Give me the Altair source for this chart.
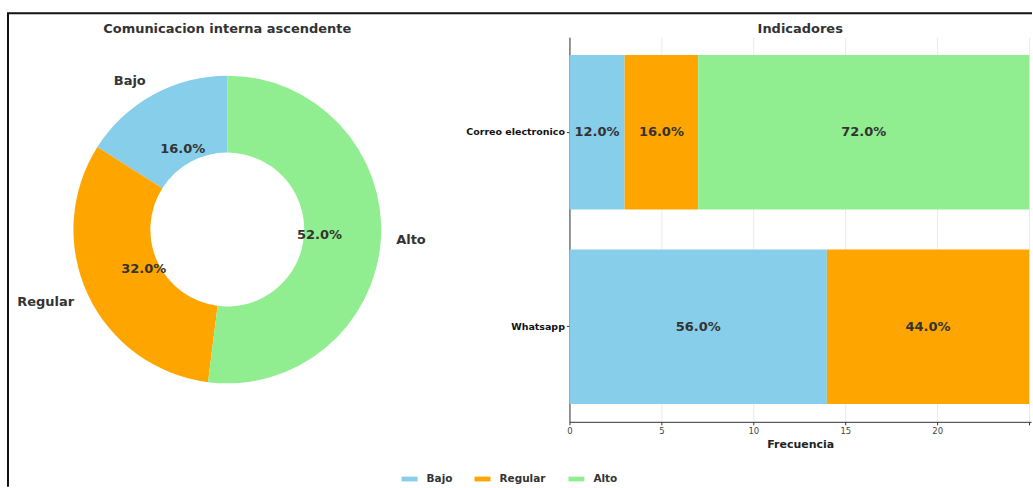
import altair as alt
import pandas as pd

# ---------------- data ----------------
niveles = ["Bajo", "Regular", "Alto"]
colores = ["#87CEEB", "#FFA500", "#90EE90"]
donut_conteos = [4, 8, 13]

medios = ["Correo electronico", "Whatsapp"]
correo_conteos = [3, 4, 18]
whatsapp_conteos = [14, 11, 0]
x_ticks = [0, 5, 10, 15, 20, 25]

FONT = "DejaVu Sans"
TXT = "#333333"

donut_df = pd.DataFrame({"nivel": niveles, "n": donut_conteos, "orden": list(range(len(niveles)))})
bar_df = pd.DataFrame({
    "medio": [m for m in medios for _ in niveles],
    "nivel": niveles * len(medios),
    "n": correo_conteos + whatsapp_conteos,
    "orden": list(range(len(niveles))) * len(medios),
})
frame_df = pd.DataFrame({"k": [0]})

legend = alt.Legend(
    orient="none", legendX=394, legendY=434, direction="horizontal",
    symbolType="M-1,-0.3L1,-0.3L1,0.3L-1,0.3Z", symbolSize=256, symbolStrokeWidth=0,
    labelFont=FONT, labelFontSize=10.5, labelFontWeight="bold", labelColor=TXT,
    labelOffset=9, columnPadding=22, padding=0, title=None,
)
color = alt.Color("nivel:N", scale=alt.Scale(domain=niveles, range=colores), legend=legend)

# ---------------- donut ----------------
W_L, H = 439, 385
R_OUT, R_IN = 154, 77

base_d = (
    alt.Chart(donut_df)
    .transform_joinaggregate(total="sum(n)")
    .transform_window(cum="sum(n)", sort=[alt.SortField("orden", order="descending")], frame=[None, 0])
    .transform_calculate(
        t0="2*PI*(datum.cum - datum.n)/datum.total",
        t1="2*PI*datum.cum/datum.total",
        tm="2*PI*(datum.cum - datum.n/2)/datum.total",
        pct="format(100*datum.n/datum.total, '.1f') + '%'",
    )
)
arcs = base_d.mark_arc(radius=R_OUT, radius2=R_IN).encode(
    theta=alt.Theta("t0:Q", scale=None), theta2=alt.Theta2("t1:Q"), color=color
)
pct_txt = base_d.mark_text(
    radius=R_OUT * 0.6, font=FONT, fontSize=13, fontWeight="bold", color=TXT
).encode(theta=alt.Theta("tm:Q", scale=None), text="pct:N")
lab_left = base_d.transform_filter("datum.tm > PI").mark_text(
    radius=R_OUT * 1.1, align="right", baseline="middle", font=FONT, fontSize=13, fontWeight="bold", color=TXT
).encode(theta=alt.Theta("tm:Q", scale=None), text="nivel:N")
lab_right = base_d.transform_filter("datum.tm <= PI").mark_text(
    radius=R_OUT * 1.1, align="left", baseline="middle", font=FONT, fontSize=13, fontWeight="bold", color=TXT
).encode(theta=alt.Theta("tm:Q", scale=None), text="nivel:N")

frame_v = alt.Chart(frame_df).mark_rule(color="#111111", strokeWidth=2).encode(
    x=alt.value(0), y=alt.value(-24), y2=alt.value(450)
)
frame_h = alt.Chart(frame_df).mark_rule(color="#111111", strokeWidth=2).encode(
    x=alt.value(-1), x2=alt.value(1025), y=alt.value(-24)
)

left = alt.layer(frame_v, frame_h, arcs, pct_txt, lab_left, lab_right).properties(
    width=W_L, height=H,
    title=alt.Title("Comunicacion interna ascendente", font=FONT, fontSize=13, fontWeight="bold",
                    color=TXT, anchor="middle", offset=-24),
)

# ---------------- stacked bars ----------------
W_R = 462
base_b = (
    alt.Chart(bar_df)
    .transform_joinaggregate(total="sum(n)", groupby=["medio"])
    .transform_stack(stack="n", groupby=["medio"], as_=["x0", "x1"], sort=[alt.SortField("orden")])
    .transform_calculate(
        xm="(datum.x0 + datum.x1)/2",
        pct="format(100*datum.n/datum.total, '.1f') + '%'",
    )
)
y_enc = alt.Y(
    "medio:N", sort=medios, title=None,
    scale=alt.Scale(paddingInner=0.205, paddingOuter=0.092),
    axis=alt.Axis(labelFont=FONT, labelFontSize=9.5, labelFontWeight="bold", labelColor="#111111",
                  tickSize=3, tickColor="#333333", domainColor="#333333", labelPadding=2, grid=False),
)
x_scale = alt.Scale(domain=[0, 25.1], nice=False)
x_axis = alt.Axis(values=x_ticks, labelExpr="datum.value == 25 ? '' : datum.label",
                  labelFlush=False,
                  labelFont=FONT, labelFontSize=8.5, labelColor="#444444", tickSize=3,
                  tickColor="#333333", domainColor="#333333", grid=True, gridColor="#e4e4e4",
                  gridWidth=0.8, titleFont=FONT, titleFontSize=11, titleFontWeight="bold",
                  titleColor="#222222", titlePadding=3, labelPadding=2)
bars = base_b.mark_bar().encode(
    x=alt.X("x0:Q", scale=x_scale, axis=x_axis, title="Frecuencia"),
    x2=alt.X2("x1:Q"),
    y=y_enc,
    color=color,
)
bar_txt = base_b.transform_filter("datum.n > 0").mark_text(
    font=FONT, fontSize=13, fontWeight="bold", color=TXT
).encode(
    x=alt.X("xm:Q", scale=x_scale),
    y=alt.Y("medio:N", sort=medios),
    text="pct:N",
)
right = alt.layer(bars, bar_txt).properties(
    width=W_R, height=H,
    title=alt.Title("Indicadores", font=FONT, fontSize=13, fontWeight="bold",
                    color=TXT, anchor="middle", offset=1),
)

chart = (
    alt.hconcat(left, right, spacing=123, bounds="flush")
    .properties(padding={"left": 6, "top": 12, "right": 0, "bottom": 0}, background="white")
    .configure_view(stroke=None)
)

chart.save("out.html", embed_options={"renderer": "svg", "actions": False})
